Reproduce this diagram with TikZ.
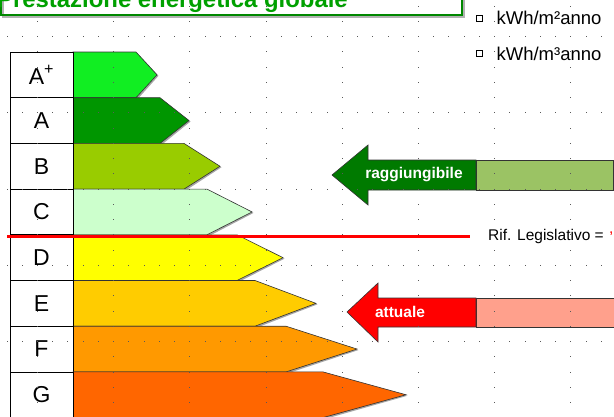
\documentclass[tikz,border=0pt]{standalone}
\usepackage{fontspec}
\setmainfont{Liberation Sans}
\usetikzlibrary{positioning}
\definecolor{titlegreen}{RGB}{0,160,0}
\definecolor{cAplus}{RGB}{17,238,34}
\definecolor{cA}{RGB}{0,150,0}
\definecolor{cB}{RGB}{153,204,0}
\definecolor{cC}{RGB}{204,255,204}
\definecolor{cD}{RGB}{255,255,0}
\definecolor{cE}{RGB}{255,204,0}
\definecolor{cF}{RGB}{255,153,0}
\definecolor{cG}{RGB}{255,102,0}
\definecolor{raggdark}{RGB}{0,122,0}
\definecolor{ragglight}{RGB}{155,195,100}
\definecolor{attpink}{RGB}{255,160,140}

\begin{document}
\begin{tikzpicture}[x=1pt, y=-1pt,
labelcell/.style={draw, line width=0.7pt, fill=white, minimum width=63pt, minimum height=45.7pt,
inner sep=0pt, font=\fontsize{23}{23}\selectfont},
classarrow/.style={draw=black!80, line width=0.6pt},
bigarrow/.style={draw=black!80, line width=0.6pt},
arrowtext/.style={text=white, inner sep=0pt, font=\fontsize{15.5}{15.5}\selectfont\bfseries},
plain/.style={inner sep=0pt, font=\fontsize{15.5}{15.5}\selectfont},
unit/.style={inner sep=0pt, font=\fontsize{18.5}{18.5}\selectfont},
griddot/.style={fill=black!65}]
\useasboundingbox (0,0) rectangle (614,416);
\begin{scope}
\clip (0,0) rectangle (614,416);
% title box, cut at the top
\draw[black!30, line width=2pt] (2.5,-20) rectangle (463.5,16.5);
\draw[titlegreen!85!black, line width=1.8pt] (1,-20) rectangle (462,15);
\node[anchor=base east, inner sep=0pt, text=titlegreen,
font=\fontsize{23.9}{23.9}\selectfont\bfseries] (title) at (348,7) {Prestazione energetica globale};
% classes
\foreach \i/\lab/\col/\re/\tip in {0/{A\textsuperscript{+}}/cAplus/136/157, 1/A/cA/160/189,
2/B/cB/184/220, 3/C/cC/207/252, 4/D/cD/237/283, 5/E/cE/255/316, 6/F/cF/286/357, 7/G/cG/323/406}{
\pgfmathsetmacro\t{52+45.7*\i}
\pgfmathsetmacro\m{\t+22.85}
\pgfmathsetmacro\b{\t+45.7}
\fill[black!35] (74.5,\t+1.5) -- (\re+1.5,\t+1.5) -- (\tip+1.5,\m+1) -- (\re+1.5,\b+1.5) -- (74.5,\b+1.5) -- cycle;
\draw[classarrow, fill=\col] (73,\t) -- (\re,\t) -- (\tip,\m) -- (\re,\b) -- (73,\b) -- cycle;
\node[labelcell] (l\i) at (41.5,\m) {\lab};}
% legal reference
\node[plain, anchor=west] (rif) at (488,236) {Rif. Legislativo =};
\node[plain, anchor=west, text=red] (rifval) at (609,234) {,};
\coordinate (redstart) at (7,236);
\draw[red, line width=3pt] (redstart) -- ([xshift=-18pt]rif.west);
% reachable
\draw[bigarrow, fill=ragglight] (476,160) rectangle (613,190);
\draw[bigarrow, fill=raggdark] (332,175) -- (368,145) -- (368,160) -- (476,160) -- (476,190)
-- (368,190) -- (368,205) -- cycle;
\node[arrowtext] (ragg) at (414,175) {raggiungibile};
% current
\draw[bigarrow, fill=attpink] (476,298) rectangle (614,327);
\draw[bigarrow, fill=red] (347,312) -- (378,283) -- (378,298) -- (476,298) -- (476,327)
-- (378,327) -- (378,342) -- cycle;
\node[arrowtext] (att) at (400,312) {attuale};
% units
\node[draw, fill=white, line width=0.7pt, minimum size=6pt, inner sep=0pt] (chk1) at (479,18) {};
\node[unit, right=14pt of chk1] (u1) {kWh/m²anno};
\node[draw, fill=white, line width=0.7pt, minimum size=6pt, inner sep=0pt] (chk2) at (479,53.5) {};
\node[unit, right=14pt of chk2] (u2) {kWh/m³anno};
% sheet grid dots
\foreach \gx in {0,...,7}{
\foreach \k in {0,...,27}{
\fill[griddot] (37.5+76.2*\gx-0.5,6+15.26*\k-0.5) rectangle ++(1,1);}}
\foreach \gy in {0,...,5}{
\foreach \k in {0,...,40}{
\fill[griddot] (7+15.24*\k-0.5,36.5+76.3*\gy-0.5) rectangle ++(1,1);}}
\end{scope}
\end{tikzpicture}
\end{document}
